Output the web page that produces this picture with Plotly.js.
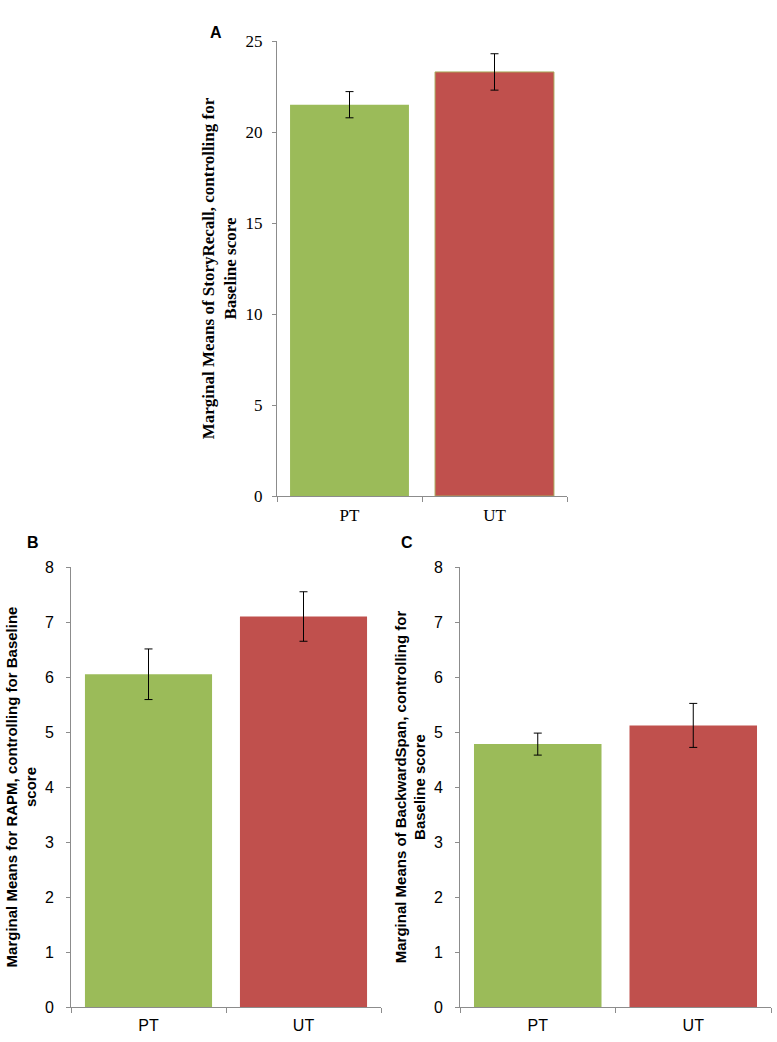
<!DOCTYPE html>
<html>
<head>
<meta charset="utf-8">
<script src="https://cdn.plot.ly/plotly-3.0.1.min.js"></script>
<style>html,body{margin:0;padding:0;background:#fff;}#chart{width:777px;height:1042px;}</style>
</head>
<body>
<div id="chart"></div>
<script>
var groups = ['PT', 'UT'];
var barColors = ['#9BBB59', '#C0504D'];
var storyRecall = [21.5, 23.3];
var storyRecallErr = [0.72, 1.0];
var rapm = [6.05, 7.1];
var rapmErr = [0.46, 0.45];
var backwardSpan = [4.78, 5.12];
var backwardSpanErr = [0.2, 0.4];
var panelLabels = ['A', 'B', 'C'];
var yTitles = [
  'Marginal Means of StoryRecall, controlling for<br>Baseline score',
  'Marginal Means for RAPM, controlling for Baseline<br>score',
  'Marginal Means of BackwardSpan, controlling for<br>Baseline score'
];

var W = 777, H = 1042;
function fx(px) { return px / W; }
function fy(px) { return 1 - px / H; }

var axisGray = '#8c8c8c';
var serif = 'Liberation Serif, Times New Roman, serif';
var sans = 'Liberation Sans, Arial, sans-serif';

function barTrace(vals, errs, xa, ya, lineColors, lineWidths) {
  return {
    type: 'bar', x: groups, y: vals, xaxis: xa, yaxis: ya,
    marker: { color: barColors, line: { color: lineColors, width: lineWidths } },
    error_y: { type: 'data', array: errs, visible: true, color: '#000', thickness: 1, width: 4 },
    showlegend: false, hoverinfo: 'x+y'
  };
}

var data = [
  barTrace(storyRecall, storyRecallErr, 'x', 'y', ['#9BBB59', '#A8A85A'], [0, 1]),
  barTrace(rapm, rapmErr, 'x2', 'y2', barColors, [0, 0]),
  barTrace(backwardSpan, backwardSpanErr, 'x3', 'y3', barColors, [0, 0])
];

function xAxis(domain, anchor, font) {
  return {
    domain: domain, anchor: anchor, type: 'category',
    showline: true, linecolor: axisGray, linewidth: 1,
    ticks: 'outside', tickson: 'boundaries', ticklen: 5, tickcolor: axisGray,
    showgrid: false, zeroline: false, tickfont: font, fixedrange: true,
    ticklabelstandoff: 4
  };
}
function yAxis(domain, anchor, range, dtick, font, title, titleFont, standoff, labStand) {
  return {
    domain: domain, anchor: anchor, range: range, dtick: dtick,
    showline: true, linecolor: axisGray, linewidth: 1,
    ticks: 'outside', ticklen: 4, tickcolor: axisGray,
    showgrid: false, zeroline: false, tickfont: font, fixedrange: true,
    ticklabelstandoff: labStand,
    title: { text: title, font: titleFont, standoff: standoff }
  };
}

var fontA = { family: serif, size: 17, color: '#000' };
var fontBC = { family: sans, size: 16, color: '#000' };
var titleFontA = { family: serif, size: 17, color: '#000', weight: 'bold' };
var titleFontBC = { family: sans, size: 15, color: '#000', weight: 'bold' };
var labelFont = { family: sans, size: 16, color: '#000', weight: 'bold' };

var layout = {
  width: W, height: H,
  margin: { l: 0, r: 0, t: 0, b: 0 },
  paper_bgcolor: '#fff', plot_bgcolor: '#fff',
  bargap: 0.18,
  xaxis: xAxis([fx(277), fx(567)], 'y', fontA),
  yaxis: yAxis([fy(496), fy(41)], 'x', [0, 25], 5, fontA, yTitles[0], titleFontA, 4, 6),
  xaxis2: xAxis([fx(71), fx(381)], 'y2', fontBC),
  yaxis2: yAxis([fy(1007), fy(567)], 'x2', [0, 8], 1, fontBC, yTitles[1], titleFontBC, 4, 9),
  xaxis3: xAxis([fx(460), fx(771)], 'y3', fontBC),
  yaxis3: yAxis([fy(1007), fy(567)], 'x3', [0, 8], 1, fontBC, yTitles[2], titleFontBC, 4, 9),
  annotations: [
    { text: panelLabels[0], x: fx(208), y: fy(22), xref: 'paper', yref: 'paper', showarrow: false, font: labelFont },
    { text: panelLabels[1], x: fx(25), y: fy(542), xref: 'paper', yref: 'paper', showarrow: false, font: labelFont },
    { text: panelLabels[2], x: fx(407), y: fy(542), xref: 'paper', yref: 'paper', showarrow: false, font: labelFont }
  ]
};

Plotly.newPlot('chart', data, layout, { displayModeBar: false, staticPlot: true });
</script>
</body>
</html>
